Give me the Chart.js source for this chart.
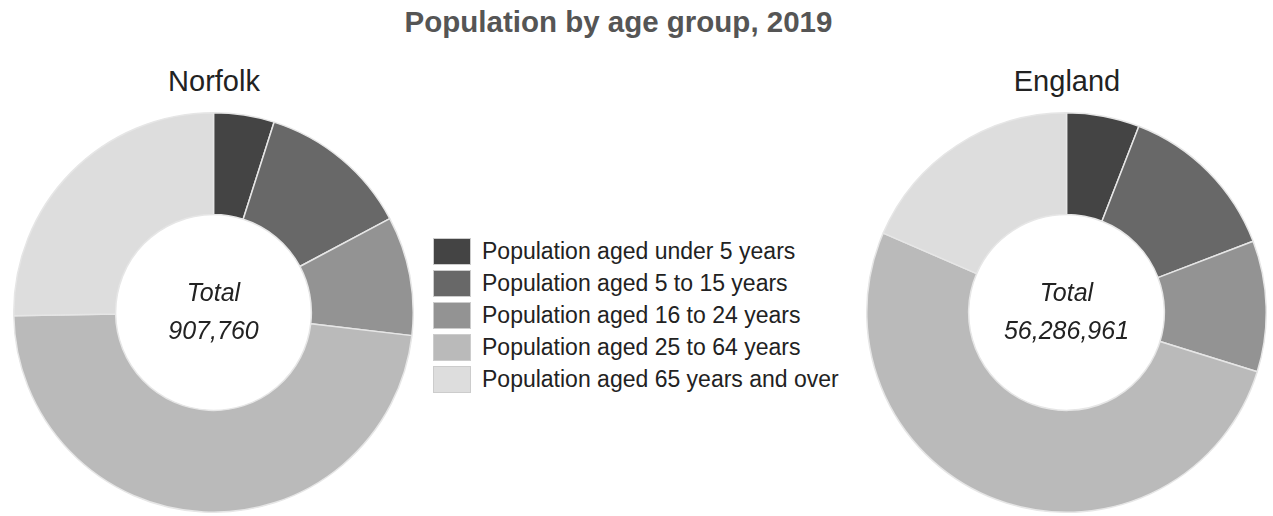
<!DOCTYPE html>
<html>
<head>
<meta charset="utf-8">
<script src="https://cdn.jsdelivr.net/npm/chart.js@4"></script>
<style>
  body { margin: 0; width: 1273px; height: 516px; background: #fff; font-family: "Liberation Sans", Arial, sans-serif; position: relative; overflow: hidden; }
  .title { position: absolute; top: 8px; left: -18px; width: 1273px; text-align: center; font-size: 29.5px; line-height: 28px; font-weight: bold; color: #555; }
  .name { position: absolute; top: 67px; width: 300px; text-align: center; font-size: 29px; line-height: 29px; color: #222; }
  .box { position: absolute; width: 401px; height: 401px; }
  #legend { position: absolute; left: 433px; top: 236px; }
  .item { display: flex; align-items: center; height: 31.8px; font-size: 23px; color: #222; white-space: nowrap; }
  .swatch { width: 38px; height: 27px; border: 1px solid #ccc; margin-right: 11px; box-sizing: border-box; flex: none; }
</style>
</head>
<body>
<div class="title">Population by age group, 2019</div>
<div class="name" style="left:64px">Norfolk</div>
<div class="name" style="left:917px">England</div>
<div class="box" style="left:13px; top:112px"><canvas id="chart-norfolk"></canvas></div>
<div class="box" style="left:866px; top:112px"><canvas id="chart-england"></canvas></div>
<div id="legend"></div>
<script>
const categories = ['Population aged under 5 years', 'Population aged 5 to 15 years', 'Population aged 16 to 24 years', 'Population aged 25 to 64 years', 'Population aged 65 years and over'];
const norfolk = [44500, 111700, 87500, 434800, 229260];
const england = [3321000, 7486000, 5966000, 29100961, 10413000];
const colours = ['#444444', '#686868', '#939393', '#bababa', '#dddddd'];

// legend
document.getElementById('legend').innerHTML = categories.map((c, i) =>
  `<div class="item"><div class="swatch" style="background:${colours[i]}"></div>${c}</div>`).join('');

const centreText = {
  id: 'centreText',
  afterDraw(chart) {
    const meta = chart.getDatasetMeta(0).data[0];
    if (!meta) return;
    const total = chart.data.datasets[0].data.reduce((a, b) => a + b, 0);
    const ctx = chart.ctx;
    ctx.save();
    ctx.fillStyle = '#222';
    ctx.font = 'italic 25px "Liberation Sans", Arial, sans-serif';
    ctx.textAlign = 'center';
    ctx.textBaseline = 'middle';
    ctx.fillText('Total', meta.x, meta.y - 18);
    ctx.fillText(total.toLocaleString('en-GB'), meta.x, meta.y + 20);
    ctx.restore();
  }
};

function doughnut(id, values) {
  new Chart(document.getElementById(id), {
    type: 'doughnut',
    data: {
      labels: categories,
      datasets: [{
        data: values,
        backgroundColor: colours,
        borderColor: '#e6e6e6',
        borderWidth: 1.5,
        hoverOffset: 0
      }]
    },
    options: {
      responsive: true,
      maintainAspectRatio: false,
      animation: false,
      cutout: '49%',
      layout: { padding: 0 },
      plugins: { legend: { display: false }, tooltip: { enabled: false } }
    },
    plugins: [centreText]
  });
}

doughnut('chart-norfolk', norfolk);
doughnut('chart-england', england);
</script>
</body>
</html>
